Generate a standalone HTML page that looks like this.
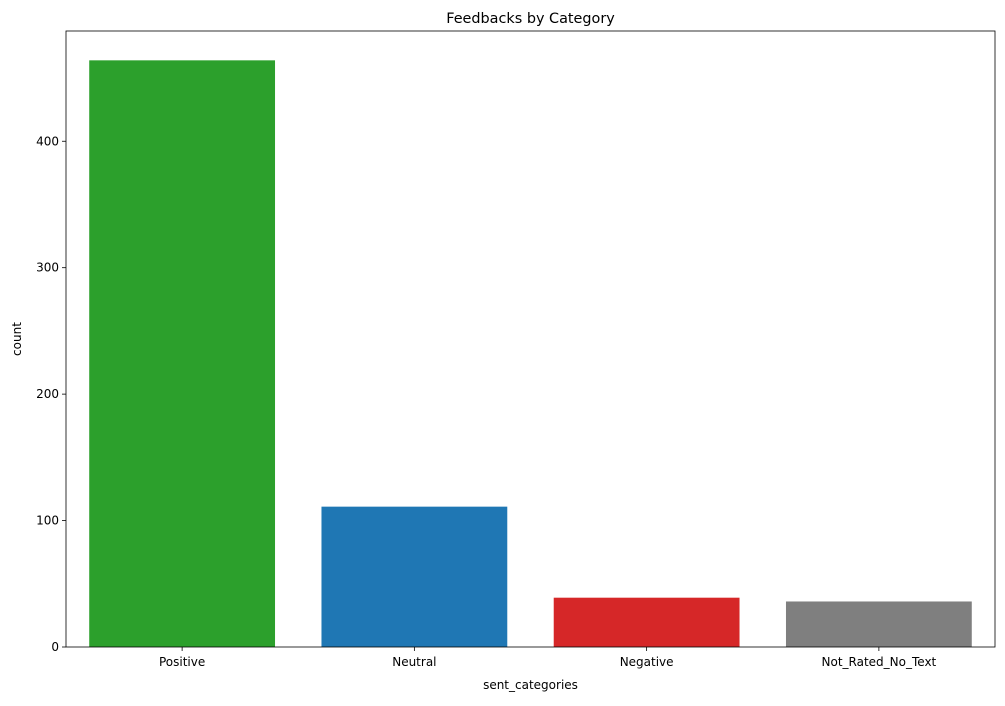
<!DOCTYPE html>
<html><head><meta charset="utf-8"><style>
body{margin:0;background:#fff;}
svg text{font-family:"DejaVu Sans","Liberation Sans",sans-serif;fill:#000;}
</style></head><body>
<svg id="chart" width="1005" height="701"></svg>
<script>
const categories=["Positive","Neutral","Negative","Not_Rated_No_Text"];
const counts=[464,111,39,36];
const colors=["#2ca02c","#1f77b4","#d62728","#7f7f7f"];
const yTicks=[0,100,200,300,400];
const NS="http://www.w3.org/2000/svg";
const svg=document.getElementById('chart');
const L=66,R=995,T=31,B=647;
const ymax=Math.max(...counts)*1.05;
const y=v=>B-(v/ymax)*(B-T);
const band=(R-L)/categories.length;
const x=i=>L+band*i+band*0.1;
function mk(tag,attrs,txt){const e=document.createElementNS(NS,tag);for(const k in attrs)e.setAttribute(k,attrs[k]);if(txt!==undefined)e.textContent=txt;svg.appendChild(e);return e;}
counts.forEach((v,i)=>{
 const r=mk('rect',{x:x(i),y:y(v),width:band*0.8,height:B-y(v),fill:colors[i]});
 
 
 const tx=L+band*(i+0.5);
 const tk=mk('line',{x1:tx,x2:tx,y1:B,y2:B+4,stroke:'#000','stroke-width':0.8});
 
 
 const t=mk('text',{x:tx,y:B+19,'text-anchor':'middle','font-size':12},categories[i]);
 
 
});
yTicks.forEach(v=>{
 const tk=mk('line',{x1:L-4,x2:L,y1:y(v),y2:y(v),stroke:'#000','stroke-width':0.8});
 
 
 const t=mk('text',{x:L-7,y:y(v)+4,'text-anchor':'end','font-size':12},v);
 
 
});
const fr=mk('rect',{x:L,y:T,width:R-L,height:B-T,fill:'none',stroke:'#000','stroke-width':0.8});


const ti=mk('text',{x:(L+R)/2,y:T-8,'text-anchor':'middle','font-size':14.4},'Feedbacks by Category');


const xl=mk('text',{x:(L+R)/2,y:B+42,'text-anchor':'middle','font-size':12},'sent_categories');


const yl=mk('text',{x:21,y:(T+B)/2,'text-anchor':'middle','font-size':12,transform:'rotate(-90 21 '+((T+B)/2)+')'},'count');


</script>
</body></html>
